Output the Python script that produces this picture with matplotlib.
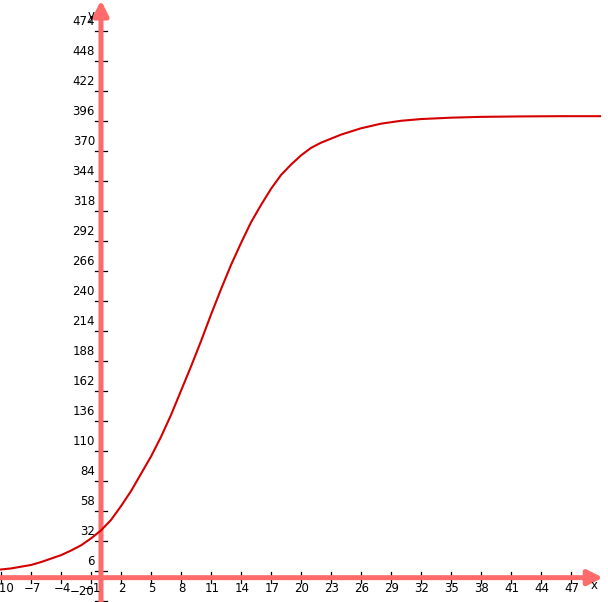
import matplotlib
matplotlib.use("Agg")
import matplotlib.pyplot as plt
import numpy as np

# curve values
x_vals = [-10.1, -9, -8, -7, -6, -5, -4, -3, -2, -1, 0, 1, 2, 3, 4, 5, 6, 7,
          8, 9, 10, 11, 12, 13, 14, 15, 16, 17, 18, 19, 20, 21, 22, 23, 24,
          26, 28, 30, 32, 35, 38, 42, 46, 49.9]
y_vals = [7, 8, 9.5, 11, 13.5, 16.5, 19.5, 23.5, 28, 34, 41, 50, 62, 75, 90,
          105, 122, 141, 162, 183, 205, 228, 250, 271, 290, 308, 323, 337,
          349, 358, 366, 372.5, 377, 380.5, 384, 389.5, 393.5, 396, 397.5,
          398.7, 399.4, 399.8, 400, 400]

x_ticks = np.arange(-10, 48, 3)
y_ticks = np.arange(-20, 475, 26)

axis_col = '#ff6b6b'
curve_col = '#d40000'

fig = plt.figure(figsize=(6.08, 6.02), dpi=100)
ax = fig.add_axes([0, 0, 1, 1])
ax.set_xlim(-10.1, 50.7)
ax.set_ylim(-21.1, 500.7)
ax.axis('off')

# tick marks (under the axis lines)
for t in x_ticks:
    ax.plot([t, t], [-4.5, 4.5], color='black', lw=0.9, zorder=1)
for t in y_ticks:
    ax.plot([-0.6, 0.6], [t, t], color='black', lw=0.9, zorder=1)

# axis lines with arrow heads
ax.annotate('', xy=(50.2, 0), xytext=(-10.1, 0),
            arrowprops=dict(arrowstyle='-|>', lw=3.6, color=axis_col,
                            mutation_scale=22, shrinkA=0, shrinkB=0), zorder=2)
ax.annotate('', xy=(0, 500.5), xytext=(0, -21.1),
            arrowprops=dict(arrowstyle='-|>', lw=3.6, color=axis_col,
                            mutation_scale=22, shrinkA=0, shrinkB=0), zorder=2)

# tick labels
for t in x_ticks:
    ax.annotate(str(t).replace('-', '\u2212'), xy=(t, 0), xytext=(1, -4),
                textcoords='offset pixels', ha='center', va='top',
                fontsize=8.5, zorder=3)
for t in y_ticks:
    ax.annotate(str(t).replace('-', '\u2212'), xy=(0, t), xytext=(-6, 3),
                textcoords='offset pixels', ha='right', va='bottom',
                fontsize=8.5, zorder=3)

ax.text(49.3, -7, 'x', fontsize=8.5, ha='center', va='center')
ax.text(-1.0, 487, 'y', fontsize=8.5, ha='center', va='center')

ax.plot(x_vals, y_vals, color=curve_col, lw=1.5, zorder=4)

fig.savefig('out.png', dpi=100)
